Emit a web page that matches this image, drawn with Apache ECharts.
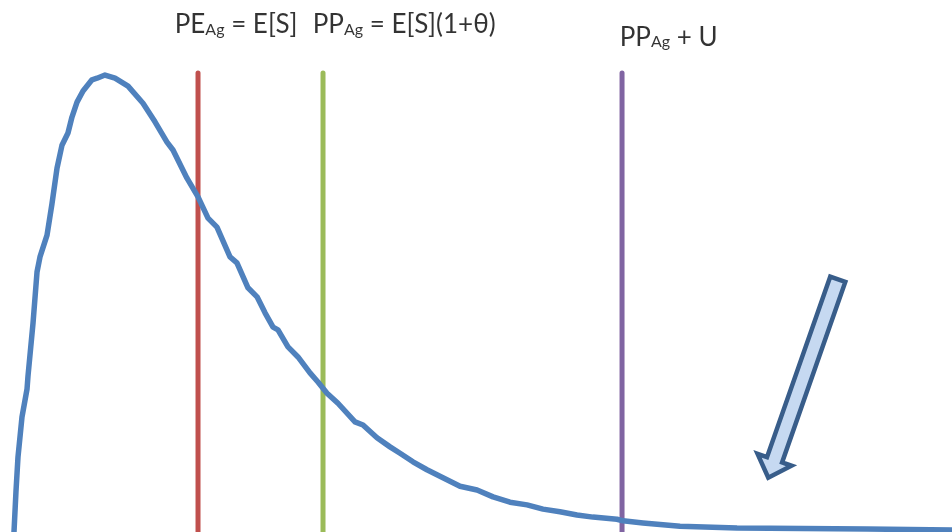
<!DOCTYPE html>
<html><head><meta charset="utf-8">
<script src="https://cdn.jsdelivr.net/npm/echarts@6/dist/echarts.min.js"></script>
<style>html,body{margin:0;padding:0;background:#fff}#c{width:952px;height:532px}</style>
</head><body><div id="c"></div>
<script>
// Loss distribution curve (x: loss units 0-100, y: relative density 0-100)
const curveX = [1.47, 1.68, 1.89, 2.31, 2.84, 2.94, 3.47, 3.89, 4.20, 4.94, 5.46, 5.99, 6.51, 7.14, 7.56, 8.09, 8.72, 9.66, 10.19, 11.03, 12.08, 13.45, 15.02, 16.28, 17.54, 18.17, 19.64, 20.80, 21.85, 22.79, 24.16, 24.89, 26.05, 27.00, 27.84, 28.68, 29.20, 30.25, 31.30, 32.56, 33.40, 34.35, 35.50, 37.29, 38.13, 39.60, 40.97, 42.02, 43.38, 44.85, 46.53, 48.32, 50.11, 51.79, 53.57, 55.36, 57.04, 58.82, 60.61, 62.29, 64.81, 65.44, 67.54, 71.43, 77.42, 91.07, 100];
const curveY = [0.0, 7.7, 14.1, 21.6, 26.9, 29.3, 39.3, 48.9, 51.7, 55.8, 61.7, 68.4, 72.7, 75.0, 78.0, 80.8, 82.9, 85.0, 85.3, 85.9, 85.3, 83.8, 80.6, 77.1, 73.3, 71.8, 66.5, 63.0, 59.0, 57.3, 51.7, 50.6, 45.9, 44.2, 41.2, 38.5, 38.0, 34.8, 32.9, 29.9, 28.2, 26.1, 24.2, 20.7, 20.1, 17.7, 16.0, 14.8, 13.2, 11.7, 10.2, 8.6, 7.9, 6.6, 5.6, 5.1, 4.3, 3.8, 3.2, 2.8, 2.4, 2.1, 1.7, 1.1, 0.75, 0.56, 0.38];

// Vertical reference lines
const markerX = [20.8, 33.93, 65.34];
const markerTop = 86.3;
const markerColors = ['#C0504D', '#9BBB59', '#8064A2'];

// Labels: [main, subscript, rest]
const labelMain = ['PE', 'PP', 'PP'];
const labelSub = ['Ag', 'Ag', 'Ag'];
const labelRest = [' = E[S]', ' = E[S](1+θ)', ' + U'];
const labelX = [18.35, 32.85, 65.1];
const labelY = [92.6, 92.6, 90.2];

// Arrow annotation (tail -> tip) in data units
const arrowTail = [88.0, 47.5];
const arrowTip = [80.7, 10.2];

const chart = echarts.init(document.getElementById('c'));

const curveData = curveX.map((x, i) => [x, curveY[i]]);
const markerSeries = markerX.map((x, i) => ({
  type: 'line',
  data: [[x, 0], [x, markerTop]],
  showSymbol: false,
  symbol: 'none',
  lineStyle: { color: markerColors[i], width: 5, cap: 'round' },
  z: 3,
  silent: true
}));

const labelData = labelX.map((x, i) => ({
  value: [x, labelY[i]],
  label: {
    formatter: '{m|' + labelMain[i] + '}{s|' + labelSub[i] + '}{m|' + labelRest[i] + '}'
  }
}));

chart.setOption({
  animation: false,
  backgroundColor: '#ffffff',
  grid: { left: 0, right: 0, top: 0, bottom: 0 },
  xAxis: { type: 'value', min: 0, max: 100, show: false },
  yAxis: { type: 'value', min: 0, max: 100, show: false },
  series: [
    ...markerSeries,
    {
      type: 'line',
      data: curveData,
      showSymbol: false,
      symbol: 'none',
      smooth: false,
      lineStyle: { color: '#4F81BD', width: 5.5, join: 'round', cap: 'round' },
      z: 4,
      silent: true
    },
    {
      type: 'scatter',
      data: labelData,
      symbolSize: 0,
      silent: true,
      label: {
        show: true,
        position: [0, 0],
        align: 'left',
        verticalAlign: 'bottom',
        rich: {
          m: { fontFamily: 'Lato', fontSize: 26, color: '#000', lineHeight: 30 },
          s: { fontFamily: 'Lato', fontSize: 16, color: '#000', lineHeight: 14, padding: [10, 0, 0, 0] }
        }
      }
    },
    {
      type: 'custom',
      silent: true,
      z: 5,
      data: [[arrowTail[0], arrowTail[1], arrowTip[0], arrowTip[1]]],
      renderItem: function (params, api) {
        const t = api.coord([api.value(0), api.value(1)]);
        const p = api.coord([api.value(2), api.value(3)]);
        const dx = p[0] - t[0], dy = p[1] - t[1];
        const len = Math.sqrt(dx * dx + dy * dy);
        const ux = dx / len, uy = dy / len;
        const nx = -uy, ny = ux;
        const headLen = 19, sh = 8, hh = 18;
        const bx = p[0] - ux * headLen, by = p[1] - uy * headLen;
        const pts = [
          [t[0] + nx * sh, t[1] + ny * sh],
          [bx + nx * sh, by + ny * sh],
          [bx + nx * hh, by + ny * hh],
          [p[0], p[1]],
          [bx - nx * hh, by - ny * hh],
          [bx - nx * sh, by - ny * sh],
          [t[0] - nx * sh, t[1] - ny * sh]
        ];
        return {
          type: 'polygon',
          shape: { points: pts },
          style: { fill: '#C6D9F1', stroke: '#385D8A', lineWidth: 4.5, lineJoin: 'miter' }
        };
      }
    }
  ]
});
</script>
</body></html>
